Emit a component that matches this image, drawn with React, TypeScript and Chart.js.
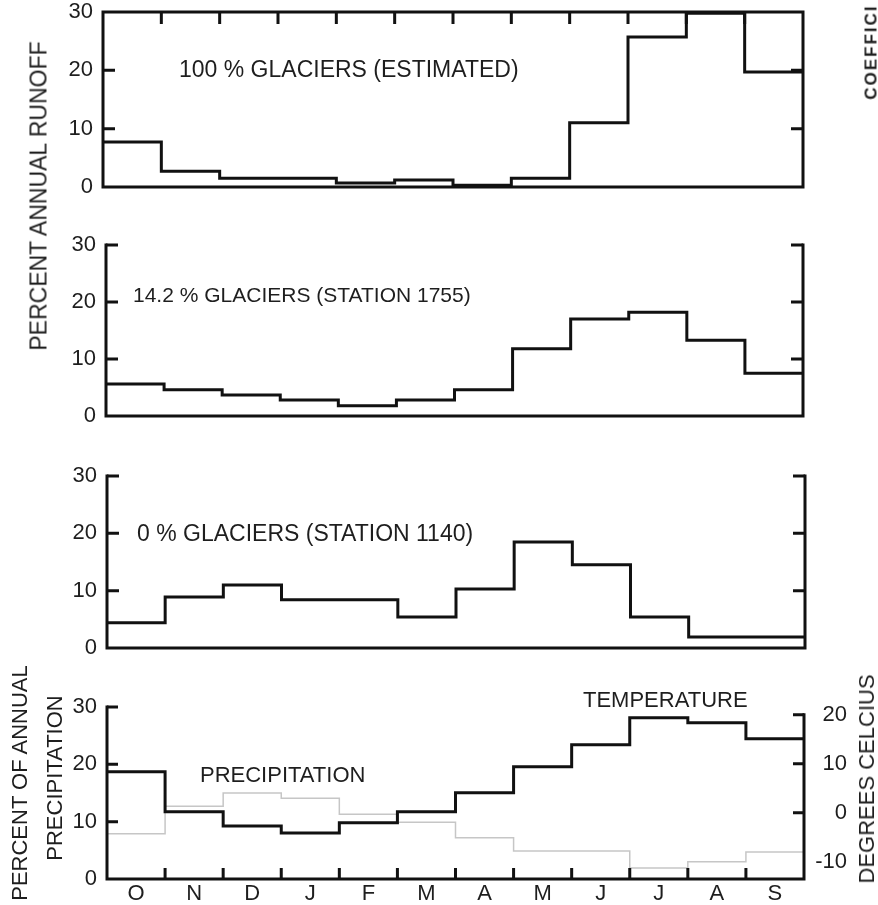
import React, { useEffect, useRef } from 'react';
import { Chart, registerables } from 'chart.js';

Chart.register(...registerables);

// ---------------- DATA ----------------
const MONTHS = ['O', 'N', 'D', 'J', 'F', 'M', 'A', 'M', 'J', 'J', 'A', 'S'];
const RUNOFF_TICKS = [0, 10, 20, 30];
const TEMP_TICKS = [-10, 0, 10, 20];

// percent of annual runoff, per month (Oct..Sep)
const RUNOFF_100 = [7.7, 2.7, 1.5, 1.5, 0.7, 1.2, 0.3, 1.5, 11.0, 25.7, 29.8, 19.7];
const RUNOFF_14 = [5.6, 4.6, 3.7, 2.8, 1.8, 2.8, 4.6, 11.8, 17.0, 18.2, 13.3, 7.5];
const RUNOFF_0 = [4.4, 8.9, 11.0, 8.4, 8.4, 5.4, 10.3, 18.5, 14.5, 5.4, 1.9, 1.9];
// percent of annual precipitation
const PRECIP = [7.9, 12.7, 15.0, 14.1, 11.3, 9.9, 7.2, 4.9, 4.9, 1.9, 3.0, 4.7];
// degrees Celsius
const TEMP = [8.4, 0.2, -2.7, -4.1, -2.0, 0.2, 4.1, 9.4, 13.9, 19.4, 18.4, 15.1];

const FONT = "'Liberation Sans', Arial, Helvetica, sans-serif";
const INK = '#111';
const TEXT = '#1e1e1e';
const W = 878;

const MONTH_EDGES = MONTHS.slice(1).map((_, i) => i + 1);

function stepPoints(vals: number[]) {
  const pts: { x: number; y: number }[] = [];
  vals.forEach((v, i) => {
    pts.push({ x: i, y: v });
    pts.push({ x: i + 1, y: v });
  });
  return pts;
}

function noPad(s: any) {
  s.paddingTop = 0;
  s.paddingBottom = 0;
  s.paddingLeft = 0;
  s.paddingRight = 0;
}

const framePlugin = {
  id: 'frame',
  afterDatasetsDraw(chart: any, _args: any, o: any) {
    const { ctx, chartArea: a } = chart;
    const x = chart.scales.x;
    const y = chart.scales.y;
    const rs = chart.scales[o.rightScale || 'y'];
    ctx.save();
    ctx.strokeStyle = INK;
    ctx.lineWidth = 3;
    ctx.lineJoin = 'miter';
    ctx.lineCap = 'square';
    ctx.beginPath();
    if (o.box) {
      ctx.moveTo(a.left, a.top);
      ctx.lineTo(a.left, a.bottom);
      ctx.lineTo(a.right, a.bottom);
      ctx.lineTo(a.right, a.top);
      ctx.closePath();
    } else {
      const rTop = o.rightFrom != null ? rs.getPixelForValue(o.rightFrom) : a.top;
      ctx.moveTo(a.left, a.top);
      ctx.lineTo(a.left, a.bottom);
      ctx.lineTo(a.right, a.bottom);
      ctx.lineTo(a.right, rTop);
    }
    ctx.stroke();
    const L = o.tickLen ?? 12;
    ctx.lineCap = 'butt';
    ctx.beginPath();
    (o.leftTicks || []).forEach((v: number) => {
      const py = y.getPixelForValue(v);
      ctx.moveTo(a.left, py);
      ctx.lineTo(a.left + L, py);
    });
    (o.rightTicks || []).forEach((v: number) => {
      const py = rs.getPixelForValue(v);
      ctx.moveTo(a.right, py);
      ctx.lineTo(a.right - L, py);
    });
    (o.topTicks || []).forEach((v: number) => {
      const px = x.getPixelForValue(v);
      ctx.moveTo(px, a.top);
      ctx.lineTo(px, a.top + L);
    });
    (o.bottomTicks || []).forEach((v: number) => {
      const px = x.getPixelForValue(v);
      ctx.moveTo(px, a.bottom);
      ctx.lineTo(px, a.bottom - L);
    });
    ctx.stroke();
    ctx.restore();
  },
};

const tickFont = { family: FONT, size: 22 };

function leftAxis(leftPx: number) {
  return {
    type: 'linear',
    position: 'left',
    min: 0,
    max: 30,
    grid: { display: false, drawTicks: false },
    border: { display: false },
    afterBuildTicks: (s: any) => {
      s.ticks = RUNOFF_TICKS.map((v) => ({ value: v }));
    },
    afterFit: (s: any) => {
      s.width = leftPx;
      noPad(s);
    },
    ticks: { font: tickFont, color: TEXT, padding: 10 },
  };
}

function runoffConfig(values: number[], p: any) {
  return {
    type: 'line',
    data: {
      datasets: [
        {
          data: stepPoints(values),
          borderColor: INK,
          borderWidth: 3,
          pointRadius: 0,
          tension: 0,
          borderJoinStyle: 'miter',
          fill: false,
        },
      ],
    },
    options: {
      animation: false,
      responsive: false,
      events: [],
      layout: { padding: { left: 0, right: W - p.right, top: p.padTop, bottom: p.padBottom } },
      plugins: {
        legend: { display: false },
        tooltip: { enabled: false },
        frame: {
          box: p.box,
          leftTicks: p.leftTicks,
          rightTicks: p.rightTicks,
          topTicks: p.topTicks,
        },
      },
      scales: {
        x: { type: 'linear', min: 0, max: 12, display: false, afterFit: noPad },
        y: leftAxis(p.left),
      },
    },
    plugins: [framePlugin],
  };
}

function climateConfig() {
  return {
    type: 'line',
    data: {
      datasets: [
        {
          label: 'Temperature',
          data: stepPoints(TEMP),
          yAxisID: 'y2',
          borderColor: INK,
          borderWidth: 3,
          pointRadius: 0,
          tension: 0,
          borderJoinStyle: 'miter',
          fill: false,
        },
        {
          label: 'Precipitation',
          data: stepPoints(PRECIP),
          yAxisID: 'y',
          borderColor: '#c6c6c6',
          borderWidth: 1.5,
          pointRadius: 0,
          tension: 0,
          fill: false,
        },
      ],
    },
    options: {
      animation: false,
      responsive: false,
      events: [],
      layout: { padding: { left: 0, right: 31, top: 17, bottom: 0 } },
      plugins: {
        legend: { display: false },
        tooltip: { enabled: false },
        frame: {
          box: false,
          rightScale: 'y2',
          rightFrom: 20,
          leftTicks: [10, 20, 30],
          rightTicks: [0, 10, 20],
          bottomTicks: MONTH_EDGES,
          tickLen: 11,
        },
      },
      scales: {
        x: {
          type: 'linear',
          position: 'bottom',
          min: 0,
          max: 12,
          grid: { display: false, drawTicks: false },
          border: { display: false },
          afterBuildTicks: (s: any) => {
            s.ticks = MONTHS.map((_, i) => ({ value: i + 0.5 }));
          },
          afterFit: (s: any) => {
            s.height = 26;
            noPad(s);
          },
          ticks: {
            autoSkip: false,
            maxRotation: 0,
            padding: 2,
            font: tickFont,
            color: TEXT,
            callback: (_v: any, i: number) => MONTHS[i],
          },
        },
        y: leftAxis(107),
        y2: {
          type: 'linear',
          position: 'right',
          min: -13.5,
          max: 21.6,
          grid: { display: false, drawTicks: false },
          border: { display: false },
          afterBuildTicks: (s: any) => {
            s.ticks = TEMP_TICKS.map((v) => ({ value: v }));
          },
          afterFit: (s: any) => {
            s.width = 43;
            noPad(s);
          },
          ticks: { font: tickFont, color: TEXT, padding: 10, crossAlign: 'far' },
        },
      },
    },
    plugins: [framePlugin],
  };
}

function ChartCanvas({ top, height, make }: { top: number; height: number; make: () => any }) {
  const ref = useRef<HTMLCanvasElement>(null);
  useEffect(() => {
    const chart = new Chart(ref.current as HTMLCanvasElement, make());
    return () => chart.destroy();
  }, []);
  return (
    <canvas
      ref={ref}
      width={W}
      height={height}
      style={{ position: 'absolute', left: 0, top, width: W, height, display: 'block' }}
    />
  );
}

function HText({ text, left, cy, size = 22 }: { text: string; left: number; cy: number; size?: number }) {
  return (
    <div
      style={{
        position: 'absolute',
        left,
        top: cy - size * 0.49,
        whiteSpace: 'nowrap',
        fontFamily: FONT,
        fontSize: size,
        lineHeight: `${size}px`,
        color: TEXT,
      }}
    >
      {text}
    </div>
  );
}

function VText({
  text,
  cx,
  cy,
  size = 22,
  bold = false,
  spacing = 0,
}: {
  text: string;
  cx: number;
  cy: number;
  size?: number;
  bold?: boolean;
  spacing?: number;
}) {
  return (
    <div
      style={{
        position: 'absolute',
        left: cx,
        top: cy,
        transform: 'translate(-50%, -50%) rotate(-90deg)',
        whiteSpace: 'nowrap',
        fontFamily: FONT,
        fontSize: size,
        lineHeight: `${size}px`,
        fontWeight: bold ? 700 : 400,
        letterSpacing: spacing,
        color: TEXT,
      }}
    >
      {text}
    </div>
  );
}

export default function App() {
  return (
    <div
      style={{
        position: 'absolute',
        left: 0,
        top: 0,
        width: W,
        height: 905,
        background: '#fff',
        overflow: 'hidden',
      }}
    >
      <ChartCanvas
        top={0}
        height={205}
        make={() =>
          runoffConfig(RUNOFF_100, {
            left: 103,
            right: 803,
            padTop: 12,
            padBottom: 18,
            box: true,
            leftTicks: [10, 20],
            rightTicks: [10, 20],
            topTicks: MONTH_EDGES,
          })
        }
      />
      <ChartCanvas
        top={225}
        height={205}
        make={() =>
          runoffConfig(RUNOFF_14, {
            left: 106,
            right: 803,
            padTop: 20,
            padBottom: 14,
            box: false,
            leftTicks: [10, 20, 30],
            rightTicks: [10, 20, 30],
          })
        }
      />
      <ChartCanvas
        top={458}
        height={205}
        make={() =>
          runoffConfig(RUNOFF_0, {
            left: 107,
            right: 805,
            padTop: 18,
            padBottom: 15,
            box: false,
            leftTicks: [10, 20, 30],
            rightTicks: [10, 20, 30],
          })
        }
      />
      <ChartCanvas top={690} height={215} make={climateConfig} />

      <HText text="100 % GLACIERS (ESTIMATED)" left={179} cy={69} size={23} />
      <HText text="14.2 % GLACIERS (STATION 1755)" left={133} cy={294} size={21} />
      <HText text="0 % GLACIERS (STATION 1140)" left={137} cy={533} size={23} />
      <HText text="PRECIPITATION" left={200} cy={775} />
      <HText text="TEMPERATURE" left={583} cy={700} />

      <VText text="PERCENT ANNUAL RUNOFF" cx={39} cy={196} size={23} />
      <VText text="PERCENT OF ANNUAL" cx={20} cy={783} />
      <VText text="PRECIPITATION" cx={55} cy={778} />
      <VText text="DEGREES CELCIUS" cx={867} cy={779} />
      <VText text="COEFFICI" cx={871} cy={52} size={17} bold spacing={2} />
    </div>
  );
}
